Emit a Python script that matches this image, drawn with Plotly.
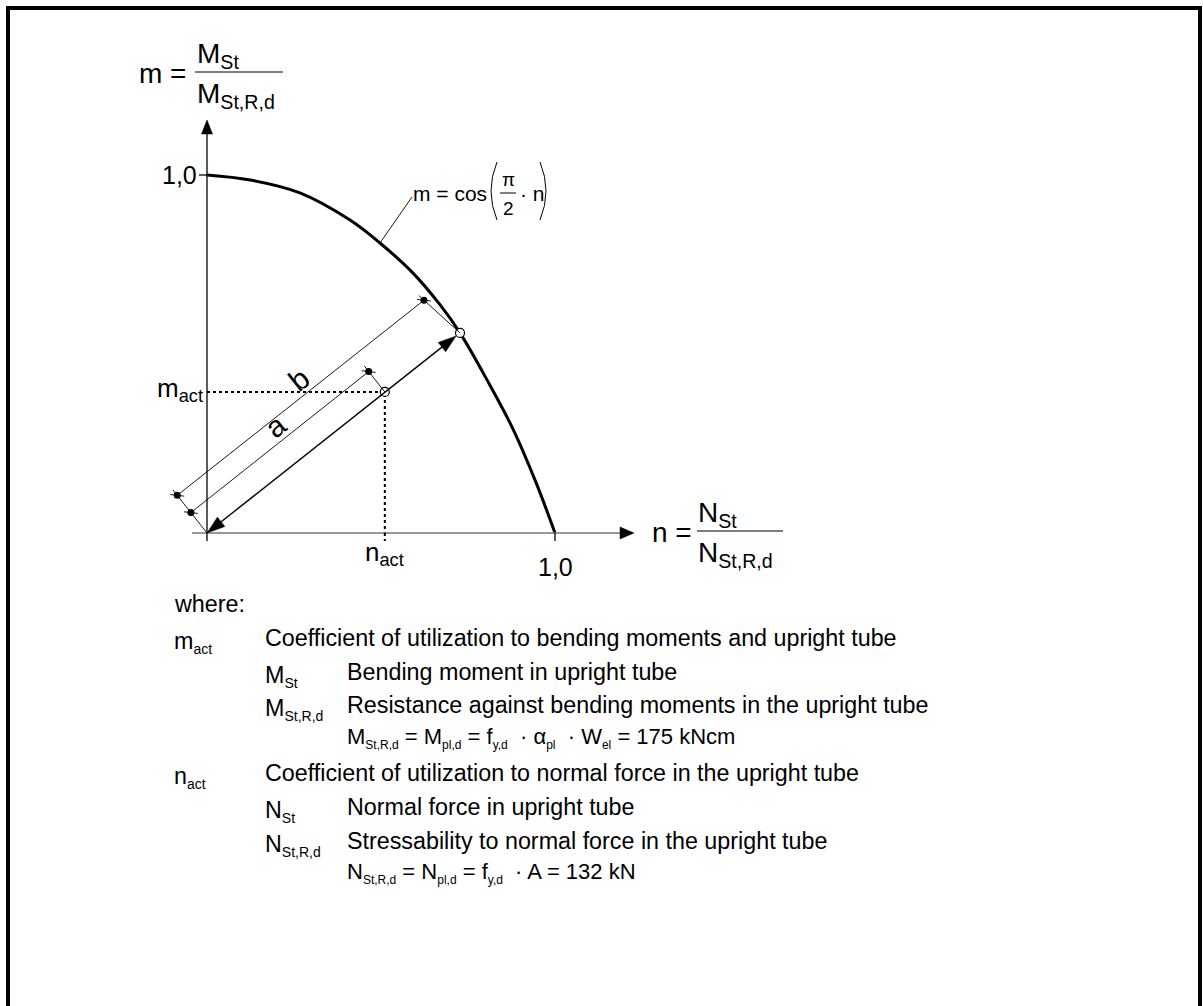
import math
import plotly.graph_objects as go

# ---------------- data ----------------
n_curve = [0.0, 0.124, 0.267, 0.411, 0.497, 0.592, 0.670, 0.727, 0.805, 0.879, 0.945, 1.0]
m_curve = [1.0, 0.986, 0.950, 0.874, 0.810, 0.726, 0.637, 0.559, 0.427, 0.291, 0.142, 0.0]
n_act = 0.511          # actual point
m_act = 0.394
n_lim = 0.727          # intersection of the ray with the curve
m_lim = 0.559
tick_value = 1.0
tick_text = "1,0"
leader_index = 4       # curve point where the formula leader starts


def sb(s, size=14):
    return f"<sub><span style='font-size:{size}px'>{s}</span></sub>"


where_title = "where:"
legend_rows = [
    (0, "m" + sb("act"), "Coefficient of utilization to bending moments and upright tube"),
    (1, "M" + sb("St"), "Bending moment in upright tube"),
    (1, "M" + sb("St,R,d"), "Resistance against bending moments in the upright tube"),
    (2, "", "M" + sb("St,R,d", 12) + " = M" + sb("pl,d", 12) + " = f" + sb("y,d", 12)
     + "&nbsp; · α" + sb("pl", 12) + "&nbsp; · W" + sb("el", 12) + " = 175 kNcm"),
    (0, "n" + sb("act"), "Coefficient of utilization to normal force in the upright tube"),
    (1, "N" + sb("St"), "Normal force in upright tube"),
    (1, "N" + sb("St,R,d"), "Stressability to normal force in the upright tube"),
    (2, "", "N" + sb("St,R,d", 12) + " = N" + sb("pl,d", 12) + " = f" + sb("y,d", 12)
     + "&nbsp; · A = 132 kN"),
]

# ---------------- page geometry (pixels) ----------------
W, H = 1203, 1006
X0, Y0 = 207, 533      # pixel position of the origin
SX, SY = 348, 358      # pixels per unit on n and m
FONT = "Liberation Sans, Arial, sans-serif"


def px(n):
    return X0 + SX * n


def py(m):
    return Y0 - SY * m


def dn(x):
    return (x - X0) / SX


def dm(y):
    return (Y0 - y) / SY


fig = go.Figure()
shapes = []
annotations = []


def seg(x1, y1, x2, y2, color="black", width=1.0, dash="solid"):
    shapes.append(dict(type="line", xref="x", yref="y", x0=dn(x1), y0=dm(y1), x1=dn(x2), y1=dm(y2),
                       line=dict(color=color, width=width, dash=dash)))


def tri(tip, direction, length=15, half=5):
    tx, ty = tip
    ux, uy = direction
    bx, by = tx - ux * length, ty - uy * length
    vx, vy = -uy, ux
    pts = [(tx, ty), (bx + vx * half, by + vy * half), (bx - vx * half, by - vy * half)]
    path = "M " + " L ".join(f"{dn(a)},{dm(b)}" for a, b in pts) + " Z"
    shapes.append(dict(type="path", xref="x", yref="y", path=path, fillcolor="black",
                       line=dict(color="black", width=0.5)))


def text(x, y, t, size, xanchor="left", yanchor="middle", angle=0, family=FONT):
    annotations.append(dict(x=dn(x), y=dm(y), xref="x", yref="y", text=t, showarrow=False,
                            xanchor=xanchor, yanchor=yanchor, textangle=angle,
                            font=dict(family=family, size=size, color="black")))


# ---------------- axes ----------------
seg(192, py(0), 621, py(0), color="#777777", width=1.6)          # n axis
tri((634, py(0)), (1, 0), length=14, half=6)
seg(px(0), 541, px(0), 133, width=1.3)                            # m axis
tri((px(0), 120), (0, -1), length=14, half=5.5)
seg(px(tick_value), py(0), px(tick_value), 541, width=1.3)        # tick n = 1
seg(199, py(tick_value), px(0), py(tick_value), width=1.3)       # tick m = 1
text(px(tick_value), 567, tick_text, 25, xanchor="center")
text(199, py(tick_value), tick_text, 25, xanchor="right")

# axis titles (fractions)
text(188, 73, "m =", 28, xanchor="right")
seg(195, 72, 283, 72, width=1.2)
text(195, 55, "M<sub>St</sub>", 28)
text(195, 95, "M<sub>St,R,d</sub>", 28)

text(694, 532, "n =", 28, xanchor="right")
seg(697, 531, 783, 531, width=1.2)
text(696, 514, "N<sub>St</sub>", 28)
text(696, 554, "N<sub>St,R,d</sub>", 28)

# ---------------- interaction curve ----------------
fig.add_trace(go.Scatter(x=n_curve, y=m_curve, mode="lines",
                         line=dict(color="black", width=3, shape="spline", smoothing=1.0),
                         hoverinfo="skip"))

# dotted guide lines to the actual point
fig.add_trace(go.Scatter(x=[0, n_act, n_act], y=[m_act, m_act, 0], mode="lines",
                         line=dict(color="black", width=2, dash="dot"), hoverinfo="skip"))
seg(px(n_act), py(0), px(n_act), 541, color="black", width=2, dash="dot")
text(205, py(m_act) - 2, "m<sub>act</sub>", 26, xanchor="right")
text(px(n_act), 553, "n<sub>act</sub>", 26, xanchor="center")

# ---------------- ray, dimension lines a and b ----------------
O = (px(0), py(0))
P = (px(n_act), py(m_act))
Q = (px(n_lim), py(m_lim))
L = math.hypot(Q[0] - O[0], Q[1] - O[1])
u = ((Q[0] - O[0]) / L, (Q[1] - O[1]) / L)
v = (u[1], -u[0])                      # perpendicular, towards upper left
OFF_A, OFF_B, OVER = 26, 48, 7

# main double arrow
Qt = (Q[0] - u[0] * 5, Q[1] - u[1] * 5)
seg(O[0] + u[0] * 12, O[1] + u[1] * 12, Qt[0] - u[0] * 12, Qt[1] - u[1] * 12, width=1.4)
tri(Qt, u, length=18, half=6)
tri(O, (-u[0], -u[1]), length=18, half=6)


def off(p, d, back=0.0):
    return (p[0] + v[0] * d - u[0] * back, p[1] + v[1] * d - u[1] * back)


a0, a1 = off(O, OFF_A), off(P, OFF_A)
b0, b1 = off(O, OFF_B), off(Q, OFF_B, back=8)
# extension lines (running slightly beyond the dimension lines)
for base, end in [(O, b0), (P, a1), (Q, b1)]:
    dx, dy = end[0] - base[0], end[1] - base[1]
    k = (math.hypot(dx, dy) + OVER) / math.hypot(dx, dy)
    seg(base[0], base[1], base[0] + dx * k, base[1] + dy * k, width=0.9)
# dimension lines
seg(a0[0], a0[1], a1[0], a1[1], width=0.9)
seg(b0[0], b0[1], b1[0], b1[1], width=0.9)
# oblique ticks through the ends
tk = ((u[0] - v[0]) / math.sqrt(2), (u[1] - v[1]) / math.sqrt(2))
dots_x, dots_y = [], []
for p in (a0, a1, b0, b1):
    seg(p[0] - tk[0] * 7, p[1] - tk[1] * 7, p[0] + tk[0] * 7, p[1] + tk[1] * 7, width=0.9)
    dots_x.append(dn(p[0]))
    dots_y.append(dm(p[1]))
fig.add_trace(go.Scatter(x=dots_x, y=dots_y, mode="markers",
                         marker=dict(size=7, color="black"), hoverinfo="skip"))

ang = -math.degrees(math.atan2(-u[1], u[0]))
ma = ((a0[0] + a1[0]) / 2 + v[0] * 15, (a0[1] + a1[1]) / 2 + v[1] * 15)
mb = ((b0[0] + b1[0]) / 2 + v[0] * 15, (b0[1] + b1[1]) / 2 + v[1] * 15)
text(ma[0] + u[0] * 7, ma[1] + u[1] * 7, "a", 30, xanchor="center", angle=ang)
text(mb[0] + u[0] * 10, mb[1] + u[1] * 10, "b", 30, xanchor="center", angle=ang)

# characteristic points
fig.add_trace(go.Scatter(x=[n_act, n_lim], y=[m_act, m_lim], mode="markers",
                         marker=dict(size=9, color="white", line=dict(color="black", width=1.2)),
                         hoverinfo="skip"))

# ---------------- formula of the curve ----------------
lx, ly = px(n_curve[leader_index]), py(m_curve[leader_index])
seg(lx, ly, 412, 197, width=0.9)
text(489, 193, "m = cos", 21, xanchor="right")
shapes.append(dict(type="path", xref="x", yref="y",
                   path=f"M {dn(497)},{dm(162)} Q {dn(485)},{dm(191)} {dn(497)},{dm(220)}",
                   line=dict(color="black", width=1)))
text(508, 179, "π", 19, xanchor="center")
seg(500, 193, 516, 193, width=1)
text(508, 208, "2", 19, xanchor="center")
text(518, 193, "· n", 21)
shapes.append(dict(type="path", xref="x", yref="y",
                   path=f"M {dn(540)},{dm(162)} Q {dn(552)},{dm(191)} {dn(540)},{dm(220)}",
                   line=dict(color="black", width=1)))

# ---------------- explanatory text ----------------
text(172, 604, where_title, 23.3)
row_y = [638, 672, 705, 738, 773, 807, 841, 873]
sym_x = {0: 172, 1: 263, 2: 345}
desc_x = {0: 263, 1: 345, 2: 345}
for (lvl, sym, desc), y in zip(legend_rows, row_y):
    if sym:
        text(sym_x[lvl], y + 4, sym, 23.3)
    text(desc_x[lvl], y, desc, 23.3 if lvl < 2 else 22)

# frame
shapes.append(dict(type="rect", xref="paper", yref="paper", x0=8 / W, x1=1200 / W,
                   y0=-0.05, y1=1 - 8 / H, line=dict(color="black", width=4)))

fig.update_layout(
    width=W, height=H, margin=dict(l=0, r=0, t=0, b=0),
    paper_bgcolor="white", plot_bgcolor="white", showlegend=False,
    xaxis=dict(range=[dn(0), dn(W)], visible=False, fixedrange=True),
    yaxis=dict(range=[dm(H), dm(0)], visible=False, fixedrange=True),
    shapes=shapes, annotations=annotations,
)
fig.write_html("out.html", config={"displayModeBar": False},
               post_script="document.body.style.margin='0px';document.body.style.overflow='hidden';")
